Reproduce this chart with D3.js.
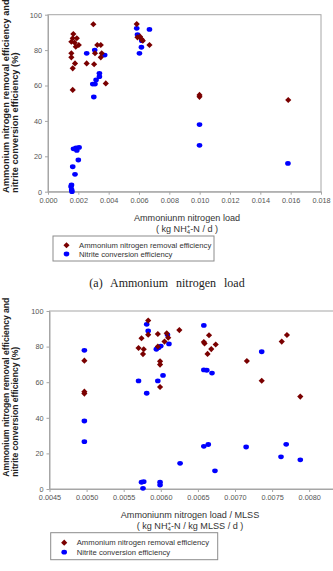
<!DOCTYPE html>
<html>
<head>
<meta charset="utf-8">
<script src="https://cdn.jsdelivr.net/npm/d3@7"></script>
<style>
  body { margin: 0; background: #fff; }
  svg { display: block; }
</style>
</head>
<body>
<script>
// two scatter panels, efficiency vs load
var w = 333;
var h = 571;

// panel (a): ammonium nitrogen load (kg NH4-N / d)
var loadRemovalX = [0.00299, 0.00167, 0.00163, 0.0019, 0.00154, 0.00176, 0.00203, 0.00183, 0.00154, 0.00154,
  0.00178, 0.00163, 0.00163, 0.00325, 0.00348, 0.0031, 0.00354, 0.00348, 0.00255, 0.00304, 0.00381,
  0.00585, 0.0059, 0.00607, 0.00618, 0.00625, 0.00669, 0.00999, 0.00999, 0.01584];
var loadRemovalY = [94.6, 89.1, 86.7, 86.7, 84.7, 84.2, 82.9, 81.9, 78.2, 75.9,
  72.5, 69.7, 57.5, 82.9, 82.9, 78.2, 78.2, 75.9, 72.5, 72.0, 61.2,
  94.7, 87.2, 87.6, 86.1, 85.3, 82.9, 54.7, 53.6, 51.8];
var loadNitriteX = [0.00255, 0.00308, 0.00374, 0.00339, 0.00339, 0.00317, 0.00295, 0.0031, 0.00302,
  0.00585, 0.0059, 0.00618, 0.00616, 0.00603, 0.00669, 0.00999, 0.00999, 0.01582,
  0.00168, 0.00185, 0.00205, 0.0019, 0.002, 0.00163, 0.00178, 0.00155, 0.00152, 0.00156, 0.00158];
var loadNitriteY = [78.2, 80.0, 77.2, 66.9, 65.0, 63.1, 60.8, 60.8, 53.5,
  92.3, 88.7, 85.3, 81.6, 78.2, 91.7, 37.9, 26.2, 16.0,
  24.2, 24.8, 25.0, 23.3, 17.9, 14.1, 9.8, 3.8, 2.8, 1.0, 0.0];
var loadTicks = [0, 0.002, 0.004, 0.006, 0.008, 0.010, 0.012, 0.014, 0.016, 0.018];

// panel (b): ammonium nitrogen load / MLSS
var mlssRemovalX = [0.00497, 0.00497, 0.00497, 0.00583, 0.00583, 0.00574, 0.0057, 0.00577, 0.00576,
  0.00596, 0.00596, 0.00605, 0.00608, 0.0061, 0.00599, 0.00599, 0.00599, 0.00625,
  0.00658, 0.00659, 0.00665, 0.00668, 0.00674, 0.00663, 0.00716, 0.00736, 0.00763, 0.0077, 0.00788];
var mlssRemovalY = [72.1, 54.7, 53.6, 94.6, 86.7, 84.7, 79.2, 78.5, 75.8,
  87.1, 80.0, 82.8, 87.5, 85.0, 71.7, 69.9, 57.3, 89.3,
  82.6, 81.8, 86.4, 78.6, 81.2, 75.9, 71.9, 60.8, 82.8, 86.5, 51.9];
var mlssNitriteX = [0.00497, 0.00497, 0.00497, 0.0057, 0.00581, 0.00581, 0.00583, 0.00596, 0.00594, 0.00597,
  0.006, 0.00603, 0.00609, 0.00611, 0.00658, 0.00658, 0.00662, 0.00669, 0.00736,
  0.00626, 0.00658, 0.00664, 0.00673, 0.00715, 0.00762, 0.00769, 0.00788,
  0.00574, 0.00577, 0.00576, 0.00599, 0.00599];
var mlssNitriteY = [77.9, 38.2, 26.6, 60.7, 53.8, 92.5, 88.8, 60.7, 78.5, 79.4,
  80.3, 63.8, 86.6, 81.5, 91.9, 66.9, 66.7, 65.1, 77.1,
  14.4, 24.0, 25.0, 10.2, 23.6, 18.1, 25.1, 16.4,
  3.8, 4.1, 0.4, 3.8, 2.2];
var mlssTicks = [0.0045, 0.0050, 0.0055, 0.0060, 0.0065, 0.0070, 0.0075, 0.0080];

var effTicks = [0, 20, 40, 60, 80, 100];
var seriesNames = ["Ammonium nitrogen removal efficiency", "Nitrite conversion efficiency"];

var red = "#7a0000";
var blue = "#0000ff";
var frameColor = "#a6a6a6";

var svg = d3.select("body").append("svg")
  .attr("width", w)
  .attr("height", h);

var diamond = d3.symbol().type(d3.symbolSquare).size(19);

function drawPanel(p) {
  var x = d3.scaleLinear().domain(p.xDomain).range([p.left, p.right]);
  var y = d3.scaleLinear().domain([0, 100]).range([p.bottom, p.top]);
  var g = svg.append("g");

  // frame
  g.append("rect")
    .attr("x", p.left).attr("y", p.top)
    .attr("width", p.right - p.left).attr("height", p.bottom - p.top)
    .attr("fill", "none").attr("stroke", frameColor).attr("stroke-width", 1);

  var ax = g.append("g")
    .attr("transform", "translate(0," + p.bottom + ")")
    .call(d3.axisBottom(x).tickValues(p.ticks).tickFormat(d3.format(p.fmt)).tickSize(3).tickSizeOuter(0).tickPadding(3));
  var ay = g.append("g")
    .attr("transform", "translate(" + p.left + ",0)")
    .call(d3.axisLeft(y).tickValues(effTicks).tickSize(3).tickSizeOuter(0).tickPadding(3));
  [ax, ay].forEach(function(a) {
    a.select(".domain").attr("stroke", frameColor);
    a.selectAll(".tick line").attr("stroke", frameColor);
    a.selectAll(".tick text")
      .attr("font-family", "Liberation Sans, Arial, sans-serif")
      .attr("font-size", 7.3)
      .attr("fill", "#555");
  });

  // points
  g.selectAll(".nit")
    .data(p.nitX.map(function(v, i) { return [v, p.nitY[i]]; }))
    .enter().append("ellipse")
    .attr("cx", function(d) { return x(d[0]); })
    .attr("cy", function(d) { return y(d[1]); })
    .attr("rx", 2.8).attr("ry", 2.4)
    .attr("fill", blue);
  g.selectAll(".rem")
    .data(p.remX.map(function(v, i) { return [v, p.remY[i]]; }))
    .enter().append("path")
    .attr("d", diamond)
    .attr("transform", function(d) { return "translate(" + x(d[0]) + "," + y(d[1]) + ") rotate(45)"; })
    .attr("fill", red);

  // y title
  var yt = g.append("text")
    .attr("transform", "translate(0," + p.yTitleStart + ") rotate(-90)")
    .attr("font-family", "Liberation Sans, Arial, sans-serif")
    .attr("font-weight", "bold")
    .attr("font-size", p.yTitleSize)
    .attr("fill", "#222");
  yt.append("tspan").attr("x", 0).attr("y", 9).text("Ammonium nitrogen removal efficiency and");
  yt.append("tspan").attr("x", 0).attr("y", 17.6).text("nitrite conversion efficiency (%)");

  // x title
  var xt = g.append("text")
    .attr("text-anchor", "middle")
    .attr("font-family", "Liberation Sans, Arial, sans-serif")
    .attr("font-size", 9.1)
    .attr("fill", "#333");
  xt.append("tspan").attr("x", p.xTitleX).attr("y", p.xTitleY).text(p.xTitle);
  var l2 = xt.append("tspan").attr("x", p.xTitleX).attr("y", p.xTitleY + 11).text("( kg NH");
  xt.append("tspan").attr("font-size", 6).attr("dy", 2).text("4");
  xt.append("tspan").attr("font-size", 6).attr("dx", -3.3).attr("dy", -6).text("+");
  xt.append("tspan").attr("dy", 4).text(p.xUnitRest);

  // legend
  var lg = g.append("g").attr("transform", "translate(" + p.legX + "," + p.legY + ")");
  lg.append("rect")
    .attr("width", p.legW).attr("height", p.legH)
    .attr("fill", "#fff").attr("stroke", "#8c8c8c").attr("stroke-width", 1);
  lg.append("path").attr("d", diamond)
    .attr("transform", "translate(13.5," + (p.legH * 0.37) + ") rotate(45)")
    .attr("fill", red);
  lg.append("ellipse").attr("cx", 13.5).attr("cy", p.legH * 0.72)
    .attr("rx", 2.8).attr("ry", 2.4).attr("fill", blue);
  lg.selectAll("text").data(seriesNames).enter().append("text")
    .attr("x", 26)
    .attr("y", function(d, i) { return p.legH * (i == 0 ? 0.37 : 0.72) + 2.7; })
    .attr("font-family", "Liberation Sans, Arial, sans-serif")
    .attr("font-size", 7.7)
    .attr("fill", "#333")
    .text(function(d) { return d; });
}

drawPanel({
  xDomain: [0, 0.018], left: 48, right: 321, top: 14.7, bottom: 191.7,
  ticks: loadTicks, fmt: ".3f",
  remX: loadRemovalX, remY: loadRemovalY, nitX: loadNitriteX, nitY: loadNitriteY,
  yTitleStart: 193, yTitleSize: 9.3,
  xTitle: "Ammoniunm nitrogen load", xUnitRest: "-N / d )", xTitleX: 187, xTitleY: 221,
  legX: 53, legY: 236, legW: 161, legH: 25
});

drawPanel({
  xDomain: [0.0045, 0.0085], left: 49.5, right: 346.3, top: 311, bottom: 489,
  ticks: mlssTicks, fmt: ".4f",
  remX: mlssRemovalX, remY: mlssRemovalY, nitX: mlssNitriteX, nitY: mlssNitriteY,
  yTitleStart: 476.7, yTitleSize: 8.6,
  xTitle: "Ammoniunm nitrogen load / MLSS", xUnitRest: "-N / kg MLSS / d )", xTitleX: 190, xTitleY: 517.5,
  legX: 50.7, legY: 532.7, legW: 167, legH: 27
});

// caption of panel (a)
svg.append("text")
  .attr("x", 167).attr("y", 286.5)
  .attr("text-anchor", "middle")
  .attr("font-family", "Liberation Serif, DejaVu Serif, serif")
  .attr("font-size", 12)
  .attr("word-spacing", 5)
  .attr("fill", "#222")
  .text("(a) Ammonium nitrogen load");
</script>
</body>
</html>
